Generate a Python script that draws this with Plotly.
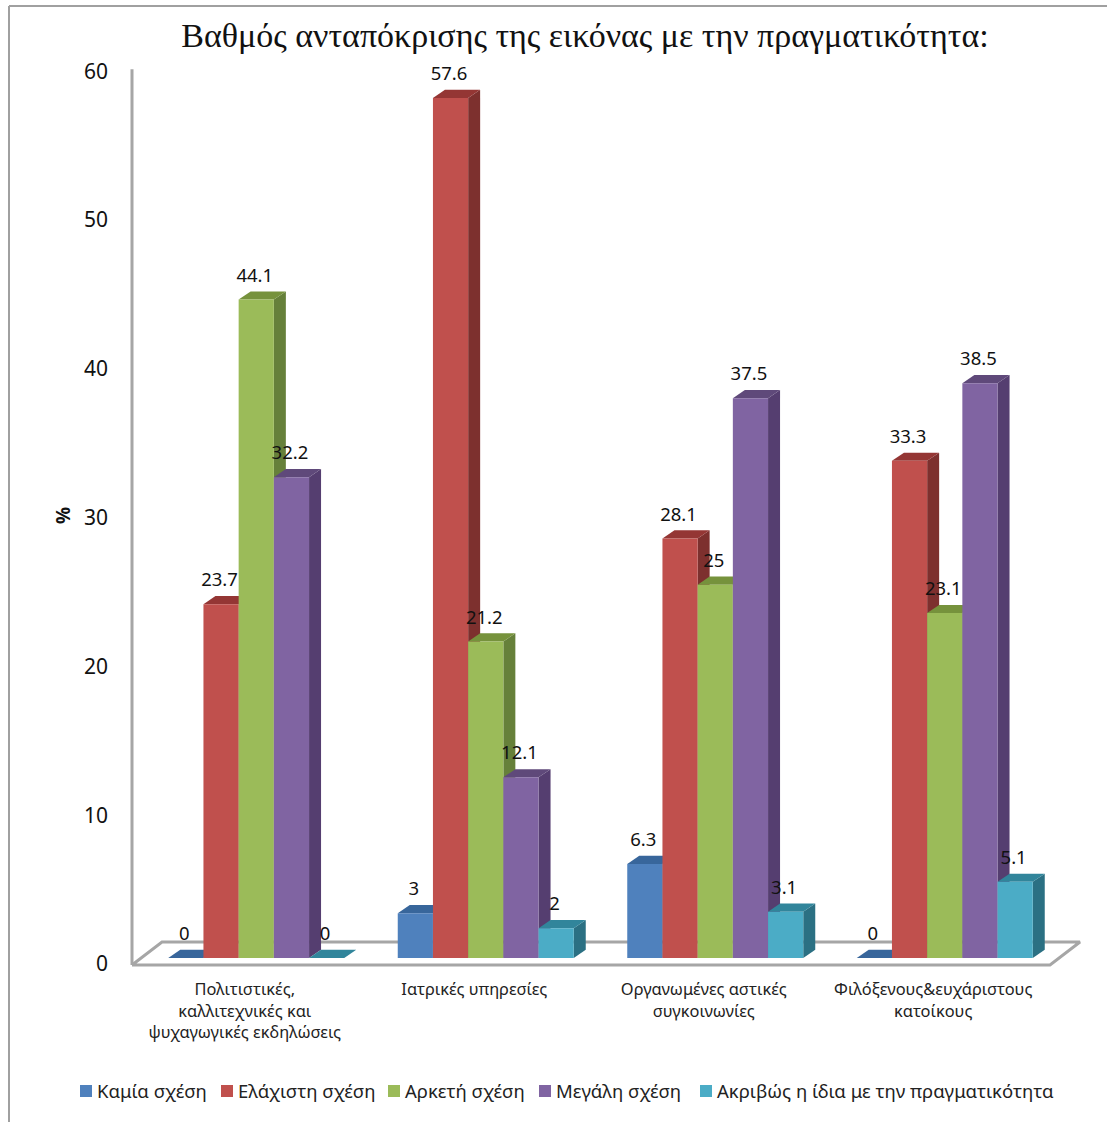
import plotly.graph_objects as go

# Survey results per category, in percent
categories = [
    "Πολιτιστικές,<br>καλλιτεχνικές και<br>ψυχαγωγικές εκδηλώσεις",
    "Ιατρικές υπηρεσίες",
    "Οργανωμένες αστικές<br>συγκοινωνίες",
    "Φιλόξενους&ευχάριστους<br>κατοίκους",
]
series_names = [
    "Καμία σχέση",
    "Ελάχιστη σχέση",
    "Αρκετή σχέση",
    "Μεγάλη σχέση",
    "Ακριβώς η ίδια με την πραγματικότητα",
]
kamia = [0, 3, 6.3, 0]
elachisti = [23.7, 57.6, 28.1, 33.3]
arketi = [44.1, 21.2, 25, 23.1]
megali = [32.2, 12.1, 37.5, 38.5]
akrivos = [0, 2, 3.1, 5.1]
y_ticks = [0, 10, 20, 30, 40, 50, 60]

series_values = [kamia, elachisti, arketi, megali, akrivos]
front_colors = ["#4f81bd", "#c0504d", "#9bbb59", "#8064a2", "#4bacc6"]
top_colors = ["#38669b", "#943634", "#76923c", "#5f497a", "#31859b"]
side_colors = ["#2f5785", "#7d302e", "#66803a", "#553e70", "#2b7083"]

# Page geometry (pixels): the data origin sits inside a slightly larger plot area
W, H = 1107, 1122
X0, Y0 = 132, 965
GROUP_PX = 229.5
Y_PX = 14.93
PLOT_L, PLOT_R, PLOT_T, PLOT_B = 120, 1086, 8, 975

# Conversions from pixel lengths to data units
def ux(px):
    return px / GROUP_PX

def uy(px):
    return px / Y_PX

def paper_x(px):
    return (px - PLOT_L) / (PLOT_R - PLOT_L)

def paper_y(py):
    return (PLOT_B - py) / (PLOT_B - PLOT_T)

BAR_W = ux(35.2)
DX, DY = ux(12), uy(8.2)
BASE = uy(7)
GROUP_SHIFT = ux(9.5)
FLOOR_DX, FLOOR_DY = ux(30), uy(23)
WALL_COLOR = "#a6a6a6"

fig = go.Figure()

# Floor of the 3D plot and the front edge of the value wall
fig.add_trace(go.Scatter(
    x=[0, 4, 4 + FLOOR_DX, FLOOR_DX, 0],
    y=[0, 0, FLOOR_DY, FLOOR_DY, 0],
    mode="lines", fill="toself", fillcolor="#ffffff",
    line=dict(color=WALL_COLOR, width=3),
    showlegend=False, hoverinfo="skip", zorder=0,
))
fig.add_trace(go.Scatter(
    x=[0, 0], y=[0, 60], mode="lines",
    line=dict(color=WALL_COLOR, width=3),
    showlegend=False, hoverinfo="skip", zorder=0,
))

label_x, label_y, label_text = [], [], []
for s, (name, values) in enumerate(zip(series_names, series_values)):
    lefts = [g + 0.5 + GROUP_SHIFT + (s - 2.5) * BAR_W for g in range(len(categories))]
    z = 1 + s * 3
    for left, v in zip(lefts, values):
        right = left + BAR_W
        top = BASE + v
        # right-hand face
        fig.add_trace(go.Scatter(
            x=[right, right + DX, right + DX, right, right],
            y=[BASE, BASE + DY, top + DY, top, BASE],
            mode="lines", fill="toself", fillcolor=side_colors[s],
            line=dict(width=0), showlegend=False, hoverinfo="skip", zorder=z,
        ))
        # upper face
        fig.add_trace(go.Scatter(
            x=[left, right, right + DX, left + DX, left],
            y=[top, top, top + DY, top + DY, top],
            mode="lines", fill="toself", fillcolor=top_colors[s],
            line=dict(width=0), showlegend=False, hoverinfo="skip", zorder=z,
        ))
        label_x.append(left + BAR_W / 2 - ux(1.5))
        label_y.append(top + uy(22.5))
        label_text.append(f"{v:g}")
    # front face
    fig.add_trace(go.Bar(
        x=[l + BAR_W / 2 for l in lefts], y=values, base=BASE, width=BAR_W,
        name=name, marker=dict(color=front_colors[s], line=dict(width=0)),
        showlegend=False, zorder=z + 1,
    ))

# Data labels above each bar
fig.add_trace(go.Scatter(
    x=label_x, y=label_y, text=label_text, mode="text",
    textposition="middle center",
    textfont=dict(family="Noto Sans", size=18.5, color="#111111"),
    showlegend=False, hoverinfo="skip", zorder=40,
))

# Carries the value-axis labels, whose spacing differs slightly from the bars
fig.add_trace(go.Scatter(x=[None], y=[None], yaxis="y2", showlegend=False, hoverinfo="skip"))

annotations = [dict(
    text="%", xref="paper", yref="paper", x=paper_x(63), y=paper_y(516),
    textangle=-90, showarrow=False, xanchor="center", yanchor="middle",
    font=dict(family="Noto Sans", size=19, color="#111111", weight="bold"),
)]

# Hand-placed legend row
legend_swatch_x = [80, 221, 388, 539, 700]
shapes = []
for sx, name, color in zip(legend_swatch_x, series_names, front_colors):
    shapes.append(dict(
        type="rect", xref="paper", yref="paper", line=dict(width=0), fillcolor=color,
        x0=paper_x(sx), x1=paper_x(sx + 12), y0=paper_y(1097), y1=paper_y(1085),
    ))
    annotations.append(dict(
        text=name, xref="paper", yref="paper", x=paper_x(sx + 14.5), y=paper_y(1090),
        showarrow=False, xanchor="left", yanchor="middle",
        font=dict(family="Noto Sans", size=18.5, color="#222222"),
    ))

# Outer frame: top and left edges only
frame = dict(color="#a0a0a0", width=2)
shapes.append(dict(type="line", xref="paper", yref="paper", line=frame,
                   x0=paper_x(9), x1=paper_x(W), y0=paper_y(6), y1=paper_y(6)))
shapes.append(dict(type="line", xref="paper", yref="paper", line=frame,
                   x0=paper_x(9), x1=paper_x(9), y0=paper_y(6), y1=paper_y(H)))

# Value labels run from 964 px (zero) at 14.88 px per unit
LABEL_ZERO_PX, LABEL_PX = 964, 14.88
y_lo, y_hi = -(PLOT_B - Y0) / Y_PX, (Y0 - PLOT_T) / Y_PX

fig.update_layout(
    width=W, height=H, autosize=False,
    margin=dict(l=PLOT_L, r=W - PLOT_R, t=PLOT_T, b=H - PLOT_B, pad=0),
    paper_bgcolor="#ffffff", plot_bgcolor="rgba(0,0,0,0)",
    barmode="overlay", showlegend=False,
    title=dict(
        text="Βαθμός ανταπόκρισης της εικόνας με την πραγματικότητα:",
        x=585 / W, xanchor="center", y=1 - 35 / H, yanchor="middle",
        font=dict(family="Liberation Serif", size=34, color="#111111"),
    ),
    xaxis=dict(
        range=[-(X0 - PLOT_L) / GROUP_PX, (PLOT_R - X0) / GROUP_PX],
        tickmode="array", tickvals=[g + 0.5 for g in range(len(categories))],
        ticktext=categories, showgrid=False, zeroline=False, showline=False,
        ticks="", tickangle=0, ticklabelstandoff=3, ticklabelshift=-2,
        tickfont=dict(family="Noto Sans", size=16.4, color="#222222"),
    ),
    yaxis=dict(
        range=[y_lo, y_hi], showgrid=False, zeroline=False, showticklabels=False,
        showline=False, ticks="",
    ),
    yaxis2=dict(
        overlaying="y", side="left", anchor="x",
        range=[(LABEL_ZERO_PX - PLOT_B) / LABEL_PX, (LABEL_ZERO_PX - PLOT_T) / LABEL_PX],
        tickmode="array", tickvals=y_ticks, showgrid=False, zeroline=False,
        showline=False, ticks="", ticklabelstandoff=11,
        tickfont=dict(family="Noto Sans", size=21, color="#111111"),
    ),
    shapes=shapes, annotations=annotations,
)

fig.write_html("out.html")
